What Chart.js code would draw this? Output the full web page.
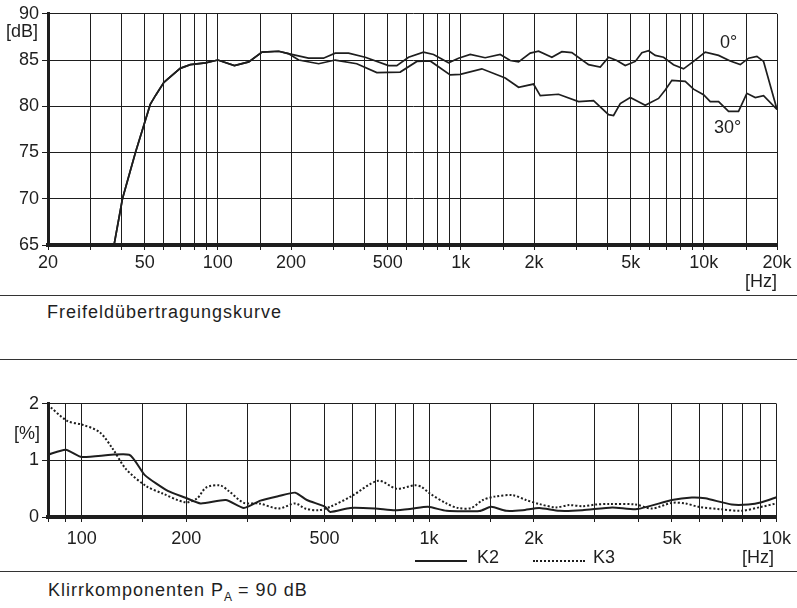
<!DOCTYPE html>
<html>
<head>
<meta charset="utf-8">
<script src="https://cdn.jsdelivr.net/npm/chart.js@4.4.1/dist/chart.umd.min.js"></script>
<style>
body { margin: 0; background: #fff; width: 797px; height: 608px; position: relative; overflow: hidden;
       font-family: "Liberation Sans", Arial, sans-serif; color: #1e1e1e; }
.lbl { position: absolute; font-size: 18px; line-height: 1; white-space: nowrap; transform: translateY(-50%); }
.cap { letter-spacing: 1px; }
.rule { position: absolute; left: 0; width: 797px; height: 0; border-top: 1.5px solid #333; }
.key { position: absolute; height: 0; width: 52px; }
#topChart { position: absolute; left: 0; top: 0; }
#botChart { position: absolute; left: 0; top: 390px; }
</style>
</head>
<body>
<canvas id="topChart" width="797" height="300"></canvas>
<canvas id="botChart" width="797" height="180"></canvas>

<div class="lbl" style="left:6px; top:31px;">[dB]</div>
<div class="lbl" style="left:745px; top:281px;">[Hz]</div>
<div class="lbl" style="left:720px; top:42px;">0°</div>
<div class="lbl" style="left:714px; top:127px;">30°</div>
<div class="rule" style="top:295px;"></div>
<div class="lbl cap" style="left:47px; top:312px;">Freifeldübertragungskurve</div>
<div class="rule" style="top:359px;"></div>

<div class="lbl" style="left:14px; top:433px;">[%]</div>
<div class="key" style="left:415px; top:560px; border-top:2px solid #1e1e1e;"></div>
<div class="lbl" style="left:477px; top:557px;">K2</div>
<div class="key" style="left:533px; top:560px; border-top:2px dotted #1e1e1e;"></div>
<div class="lbl" style="left:593px; top:557px;">K3</div>
<div class="lbl" style="left:742px; top:557px;">[Hz]</div>
<div class="rule" style="top:571px;"></div>
<div class="lbl cap" style="left:48px; top:592px;">Klirrkomponenten P<sub style="font-size:12px; letter-spacing:0;">A</sub> = 90 dB</div>

<script>
// Frequency response (Freifeld), 0° and 30°
const freq0 = [37.4, 40.5, 45.8, 52.7, 55.5, 60, 70, 77, 89, 100, 117, 134, 152, 178, 195,
               236, 272, 304, 345, 404, 504, 545, 609, 702, 772, 890, 978, 1093, 1259, 1452,
               1597, 1728, 1930, 2089, 2369, 2604, 2863, 3354, 3747, 4054, 4385, 4748, 5221,
               5559, 5922, 6310, 6826, 7500, 8250, 9070, 10130, 11500, 12840, 14120, 15280,
               16530, 17610, 20000];
const db0 = [65, 70, 75, 80.2, 81.2, 82.6, 84.1, 84.5, 84.7, 85.0, 84.4, 84.8, 85.85, 85.95, 85.7,
             85.2, 85.2, 85.75, 85.75, 85.3, 84.4, 84.4, 85.3, 85.85, 85.6, 84.7, 85.2, 85.6, 85.25, 85.6,
             84.95, 84.8, 85.75, 85.95, 85.3, 85.9, 85.8, 84.5, 84.25, 85.3, 84.95, 84.4, 84.85,
             85.8, 86.0, 85.5, 85.3, 84.5, 84.05, 84.85, 85.85, 85.5, 84.9, 84.5, 85.2,
             85.4, 84.85, 79.65];

const freq30 = [37.4, 40.5, 45.8, 52.7, 55.5, 60, 70, 77, 89, 100, 117, 134, 152, 178, 195,
                215, 260, 304, 373, 451, 563, 659, 748, 904, 994, 1220, 1523, 1728, 1990, 2122,
                2523, 3051, 3516, 4054, 4250, 4530, 4980, 5740, 6512, 6935, 7386, 8384, 9070,
                9972, 10625, 11500, 12638, 13890, 15030, 16280, 17610, 20000];
const db30 = [65, 70, 75, 80.2, 81.2, 82.6, 84.1, 84.5, 84.7, 85.0, 84.4, 84.8, 85.85, 85.95, 85.7,
              85.0, 84.6, 85.0, 84.6, 83.65, 83.7, 84.85, 84.9, 83.4, 83.45, 84.05, 83.05, 82.05, 82.4, 81.15,
              81.3, 80.5, 80.6, 79.1, 79.0, 80.3, 80.95, 80.1, 80.85, 81.75, 82.8, 82.7, 81.85,
              81.25, 80.5, 80.5, 79.45, 79.45, 81.4, 80.95, 81.15, 79.65];

// Distortion components K2 / K3 in %
const freqK2 = [80, 90, 100, 137, 152, 177, 199, 220, 260, 293, 327, 369, 412, 445, 502, 519, 593,
                699, 797, 890, 993, 1122, 1397, 1509, 1666, 1860, 2075, 2369, 2762, 3367, 3970,
                5000, 5708, 6235, 7430, 8296, 9060, 10000];
const pctK2 = [1.1, 1.19, 1.06, 1.1, 0.74, 0.46, 0.34, 0.24, 0.3, 0.16, 0.29, 0.37, 0.43, 0.3, 0.18, 0.09, 0.16,
               0.15, 0.12, 0.145, 0.18, 0.11, 0.105, 0.18, 0.11, 0.12, 0.16, 0.11, 0.12, 0.17, 0.14,
               0.3, 0.345, 0.33, 0.22, 0.22, 0.26, 0.35];

const freqK3 = [80, 90.8, 100.5, 112.6, 123, 134, 153, 171, 199, 215, 228, 250, 265, 293, 324, 369,
                412, 440, 481, 519, 599, 714, 806, 910, 951, 1005, 1122, 1211, 1323, 1428, 1543,
                1741, 1901, 2075, 2317, 2531, 2762, 3019, 3294, 3930, 4385, 5000, 5464, 5965,
                6954, 7943, 9060, 10000];
const pctK3 = [1.98, 1.7, 1.63, 1.5, 1.2, 0.85, 0.55, 0.415, 0.26, 0.33, 0.52, 0.56, 0.46, 0.25, 0.24, 0.15,
               0.24, 0.15, 0.12, 0.18, 0.37, 0.64, 0.5, 0.56, 0.53, 0.415, 0.24, 0.16, 0.16, 0.3, 0.36,
               0.385, 0.3, 0.23, 0.17, 0.21, 0.19, 0.22, 0.23, 0.22, 0.15, 0.25, 0.24, 0.18,
               0.135, 0.11, 0.18, 0.24];

// Axis grids and tick labels
const topGridFreqs = [20, 30, 40, 50, 60, 70, 80, 90, 100, 150, 200, 300, 400, 500, 600, 700, 800, 900,
                      1000, 1500, 2000, 3000, 4000, 5000, 6000, 7000, 8000, 9000, 10000, 15000, 20000];
const topLabelFreqs = [20, 50, 100, 200, 500, 1000, 2000, 5000, 10000, 20000];
const topLabelTexts = ['20', '50', '100', '200', '500', '1k', '2k', '5k', '10k', '20k'];

const botGridFreqs = [80, 90, 100, 150, 200, 300, 400, 500, 600, 700, 800, 900,
                      1000, 1500, 2000, 3000, 4000, 5000, 6000, 7000, 8000, 9000, 10000];
const botLabelFreqs = [100, 200, 500, 1000, 2000, 5000, 10000];
const botLabelTexts = ['100', '200', '500', '1k', '2k', '5k', '10k'];

const ink = '#1e1e1e';
const tickFont = { family: '"Liberation Sans", Arial, sans-serif', size: 18 };

function zip(xs, ys) {
    return xs.map((x, i) => ({ x: x, y: ys[i] }));
}

function freqAxis(min, max, gridFreqs, labelFreqs, labelTexts, height, pad) {
    return {
        type: 'logarithmic',
        min: min,
        max: max,
        afterBuildTicks: scale => { scale.ticks = gridFreqs.map(v => ({ value: v })); },
        afterFit: scale => { scale.height = height; },
        ticks: {
            autoSkip: false,
            maxRotation: 0,
            minRotation: 0,
            padding: pad,
            color: ink,
            font: tickFont,
            callback: value => {
                const i = labelFreqs.indexOf(value);
                return i >= 0 ? labelTexts[i] : '';
            }
        },
        grid: { color: ink, lineWidth: 1, tickLength: 5, tickColor: ink },
        border: { display: true, color: ink, width: 4 }
    };
}

function levelAxis(min, max, step) {
    return {
        type: 'linear',
        min: min,
        max: max,
        afterFit: scale => { scale.width = 48; },
        ticks: { stepSize: step, padding: 3, color: ink, font: tickFont },
        grid: { color: ink, lineWidth: 1, tickLength: 6, tickColor: ink },
        border: { display: true, color: ink, width: 3 }
    };
}

const common = {
    responsive: false,
    animation: false,
    plugins: { legend: { display: false }, tooltip: { enabled: false } },
    elements: { point: { radius: 0 } }
};

new Chart(document.getElementById('topChart'), {
    type: 'line',
    data: {
        datasets: [
            { data: zip(freq0, db0), borderColor: ink, borderWidth: 1.7, tension: 0 },
            { data: zip(freq30, db30), borderColor: ink, borderWidth: 1.7, tension: 0 }
        ]
    },
    options: Object.assign({}, common, {
        layout: { padding: { top: 11, right: 20, left: 0, bottom: 0 } },
        scales: {
            x: freqAxis(20, 20000, topGridFreqs, topLabelFreqs, topLabelTexts, 55, 2),
            y: levelAxis(65, 90, 5)
        }
    })
});

new Chart(document.getElementById('botChart'), {
    type: 'line',
    data: {
        datasets: [
            { data: zip(freqK2, pctK2), borderColor: ink, borderWidth: 2, tension: 0.2 },
            { data: zip(freqK3, pctK3), borderColor: ink, borderWidth: 2, borderDash: [2, 2], tension: 0.3 }
        ]
    },
    options: Object.assign({}, common, {
        layout: { padding: { top: 13, right: 19, left: 0, bottom: 0 } },
        scales: {
            x: freqAxis(80, 10000, botGridFreqs, botLabelFreqs, botLabelTexts, 53, 6),
            y: levelAxis(0, 2, 1)
        }
    })
});
</script>
</body>
</html>
